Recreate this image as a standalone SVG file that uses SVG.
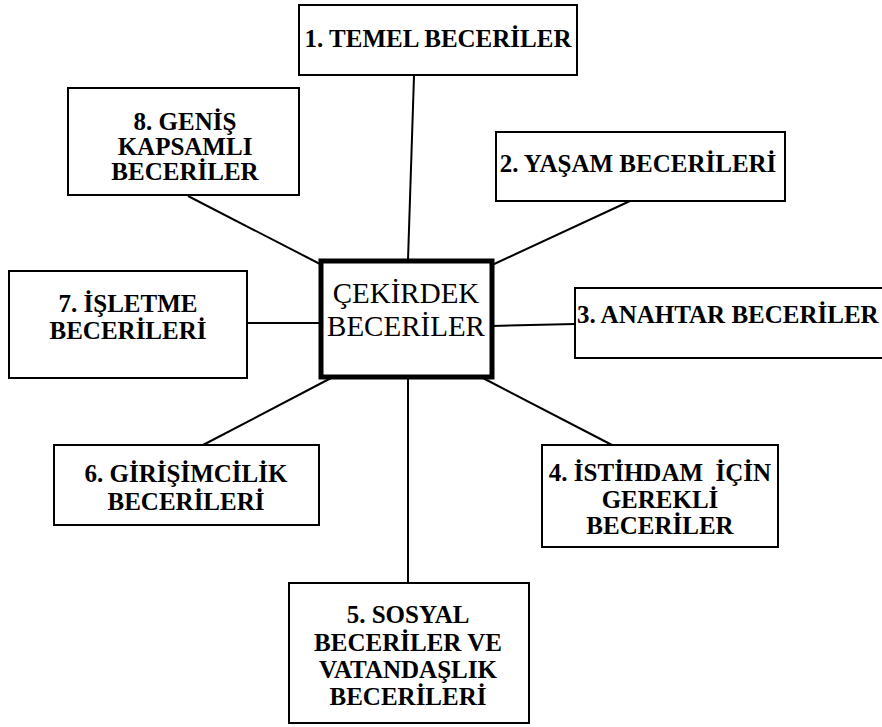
<svg xmlns="http://www.w3.org/2000/svg" width="882" height="727" viewBox="0 0 882 727">
<style>
.box{fill:#fff;stroke:#000;stroke-width:2}
.core{fill:#fff;stroke:#000;stroke-width:5}
.c{stroke:#000;stroke-width:2;fill:none}
.t{font-family:'Liberation Serif','Times New Roman',serif;font-weight:bold;font-size:25px;text-anchor:middle;fill:#000}
.tc{font-weight:normal;font-size:29px}
.ts{text-anchor:start}
</style>
<rect width="882" height="727" fill="#fff"/>
<g id="connectors">
<line class="c" x1="414" y1="76" x2="408" y2="260"/>
<line class="c" x1="188" y1="196" x2="320" y2="264"/>
<line class="c" x1="630" y1="201" x2="492" y2="265"/>
<line class="c" x1="247" y1="323" x2="320" y2="323"/>
<line class="c" x1="492" y1="326" x2="575" y2="324"/>
<line class="c" x1="203" y1="445" x2="333" y2="377"/>
<line class="c" x1="612" y1="445" x2="481" y2="377"/>
<line class="c" x1="408" y1="377" x2="408" y2="583"/>
</g>
<g id="n1">
<rect class="box" x="299" y="5" width="278" height="70"/>
<text class="t" x="438" y="47">1. TEMEL BECERİLER</text>
</g>
<g id="n8">
<rect class="box" x="68" y="88" width="231" height="107"/>
<text class="t" x="185" y="130">8. GENİŞ</text>
<text class="t" x="185" y="155">KAPSAMLI</text>
<text class="t" x="185" y="180">BECERİLER</text>
</g>
<g id="n2">
<rect class="box" x="496" y="132" width="289" height="69"/>
<text class="t" x="638" y="172">2. YAŞAM BECERİLERİ</text>
</g>
<g id="n7">
<rect class="box" x="9" y="271" width="238" height="107"/>
<text class="t" x="128" y="312">7. İŞLETME</text>
<text class="t" x="128" y="339">BECERİLERİ</text>
</g>
<g id="core">
<rect class="core" x="321" y="261" width="171" height="116"/>
<text class="t tc" x="406" y="303">ÇEKİRDEK</text>
<text class="t tc" x="406" y="336">BECERİLER</text>
</g>
<g id="n3">
<rect class="box" x="575" y="288" width="320" height="70"/>
<text class="t ts" x="577" y="323">3. ANAHTAR BECERİLER</text>
</g>
<g id="n6">
<rect class="box" x="54" y="445" width="265" height="80"/>
<text class="t" x="186" y="482">6. GİRİŞİMCİLİK</text>
<text class="t" x="186" y="510">BECERİLERİ</text>
</g>
<g id="n4">
<rect class="box" x="542" y="445" width="236" height="102"/>
<text class="t" x="660" y="481" xml:space="preserve">4. İSTİHDAM  İÇİN</text>
<text class="t" x="660" y="508">GEREKLİ</text>
<text class="t" x="660" y="534">BECERİLER</text>
</g>
<g id="n5">
<rect class="box" x="289" y="583" width="240" height="140"/>
<text class="t" x="408" y="623">5. SOSYAL</text>
<text class="t" x="408" y="651">BECERİLER VE</text>
<text class="t" x="408" y="678">VATANDAŞLIK</text>
<text class="t" x="408" y="705">BECERİLERİ</text>
</g>
</svg>
